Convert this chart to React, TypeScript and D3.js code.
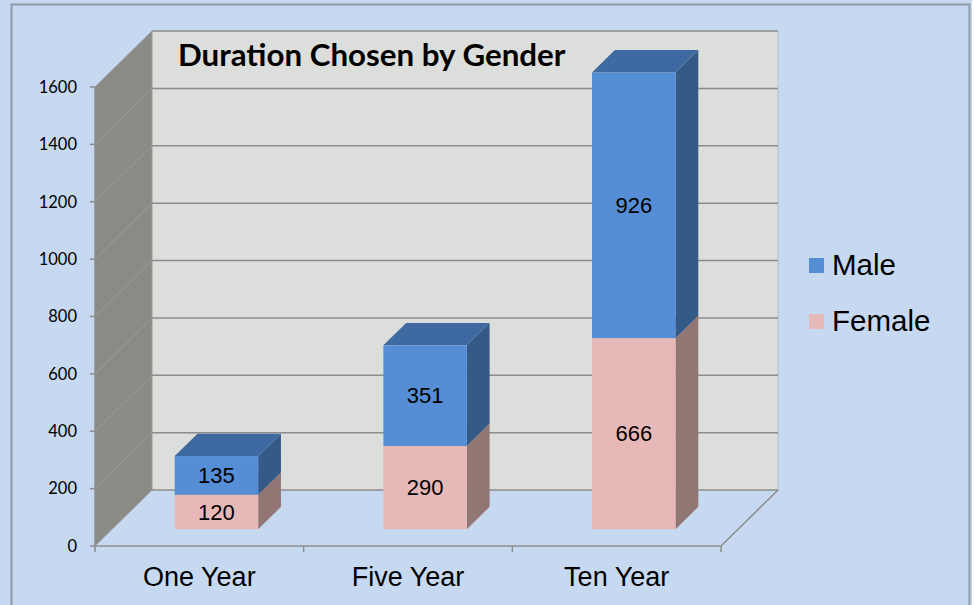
import React from "react";
import * as d3 from "d3";

// data
const categories = ["One Year", "Five Year", "Ten Year"];
const female = [120, 290, 666];
const male = [135, 351, 926];
const seriesNames = ["Male", "Female"];
const yTicks = [0, 200, 400, 600, 800, 1000, 1200, 1400, 1600];

const W = 975;
const H = 605;

// 3d box geometry
const x0 = 95, x1 = 721;
const depthX = 57, depthY = -56;
const barFrom = 0.3, barTo = 0.7;

const colors = {
  maleFront: "#558ed5",
  maleTop: "#3f6aa1",
  maleSide: "#345a88",
  femaleFront: "#e6b9b8",
  femaleTop: "#b89493",
  femaleSide: "#927674",
};

const App = () => {
  const y = d3.scaleLinear().domain([0, 1600]).range([546, 87]);
  const x = d3.scaleBand().domain(categories).range([x0, x1]).paddingInner(0.6).paddingOuter(0.3);
  const step = x.step();

  const pts = (p: number[][]) => p.map(d => d.join(",")).join(" ");

  // one box: front face, top, right side
  const box = (left: number, w: number, v0: number, v1: number, front: string, top: string, side: string, key: string) => {
    const fx = left + depthX * barFrom;
    const fy = depthY * barFrom;
    const dx = depthX * (barTo - barFrom);
    const dy = depthY * (barTo - barFrom);
    const yb = y(v0) + fy;
    const yt = y(v1) + fy;
    return (
      <g key={key}>
        <polygon points={pts([[fx + w, yb], [fx + w + dx, yb + dy], [fx + w + dx, yt + dy], [fx + w, yt]])} fill={side} />
        <polygon points={pts([[fx, yt], [fx + dx, yt + dy], [fx + w + dx, yt + dy], [fx + w, yt]])} fill={top} />
        <rect x={fx} y={yt} width={w} height={yb - yt} fill={front} />
      </g>
    );
  };

  const backL = x0 + depthX;
  const backR = x1 + depthX;

  return (
    <svg width={W} height={H} style={{ position: "absolute", left: 0, top: 0, display: "block" }}>
      <rect x={0} y={0} width={972} height={H} fill="#c6d9f0" />
      <rect x={11.5} y={4.5} width={958} height={H + 10} fill="none" stroke="#8e9aa8" strokeWidth={2} />

      {/* back wall */}
      <rect x={backL} y={y(1600) + depthY} width={backR - backL} height={y(0) - y(1600)} fill="#dcdedb" />
      <line x1={backR} x2={backR} y1={y(1600) + depthY} y2={y(0) + depthY} stroke="#b4c3d6" />
      {/* side wall */}
      <polygon points={pts([[x0, y(0)], [x0, y(1600)], [backL, y(1600) + depthY], [backL, y(0) + depthY]])} fill="#8a8b87" />
      <line x1={backL} x2={backL} y1={y(1600) + depthY} y2={y(0) + depthY} stroke="#9a9b98" />

      {/* gridlines on back wall and side wall */}
      {yTicks.map(t => (
        <g key={t} stroke="#8c8c8c" strokeWidth={1.5}>
          <line x1={backL} x2={backR} y1={y(t) + depthY} y2={y(t) + depthY} />
          <line x1={x0} x2={backL} y1={y(t)} y2={y(t) + depthY} strokeWidth={1} stroke="#9c9d9a" />
        </g>
      ))}

      {/* floor edges */}
      <line x1={x1} y1={y(0)} x2={backR} y2={y(0) + depthY} stroke="#8c8c8c" strokeWidth={1.5} />

      {/* y axis */}
      <line x1={x0} x2={x0} y1={y(0)} y2={y(1600)} stroke="#8c8c8c" strokeWidth={1.5} />
      {yTicks.map(t => (
        <g key={t}>
          <line x1={x0 - 5} x2={x0} y1={y(t)} y2={y(t)} stroke="#8c8c8c" strokeWidth={1.5} />
          <text x={77} y={y(t)} dy="0.35em" textAnchor="end" fontFamily="Lato, sans-serif" fontSize={16.5} fill="#000">{t}</text>
        </g>
      ))}

      {/* x axis */}
      <line x1={x0} x2={x1} y1={y(0)} y2={y(0)} stroke="#8c8c8c" strokeWidth={1.5} />
      {d3.range(categories.length + 1).map(i => (
        <line key={i} x1={x0 + i * step} x2={x0 + i * step} y1={y(0)} y2={y(0) + 6} stroke="#8c8c8c" strokeWidth={1.5} />
      ))}
      {categories.map(c => (
        <text key={c} x={(x(c) as number) + x.bandwidth() / 2} y={586} textAnchor="middle" fontFamily="'Liberation Sans', Arial, sans-serif" fontSize={27} fill="#000">{c}</text>
      ))}

      {/* bars */}
      {categories.map((c, i) => {
        const left = x(c) as number;
        const w = x.bandwidth();
        const f = female[i], m = male[i];
        const cx = left + depthX * barFrom + w / 2;
        const fy = depthY * barFrom;
        return (
          <g key={c}>
            {box(left, w, 0, f, colors.femaleFront, colors.femaleTop, colors.femaleSide, "f")}
            {box(left, w, f, f + m, colors.maleFront, colors.maleTop, colors.maleSide, "m")}
            <text x={cx} y={(y(0) + y(f)) / 2 + fy} dy="0.35em" textAnchor="middle" fontFamily="'Liberation Sans', Arial, sans-serif" fontSize={22} fill="#000">{f}</text>
            <text x={cx} y={(y(f) + y(f + m)) / 2 + fy} dy="0.35em" textAnchor="middle" fontFamily="'Liberation Sans', Arial, sans-serif" fontSize={22} fill="#000">{m}</text>
          </g>
        );
      })}

      {/* title */}
      <text x={178} y={66} fontFamily="Lato, sans-serif" fontWeight="bold" fontSize={31.3} fill="#000">Duration Chosen by Gender</text>

      {/* legend */}
      {seriesNames.map((s, i) => (
        <g key={s} transform={`translate(809, ${258 + i * 56})`}>
          <rect x={0} y={0} width={15} height={15} fill={i === 0 ? colors.maleFront : colors.femaleFront} />
          <text x={23} y={17} fontFamily="'Liberation Sans', Arial, sans-serif" fontSize={29.5} fill="#000">{s}</text>
        </g>
      ))}
    </svg>
  );
};

export default App;
